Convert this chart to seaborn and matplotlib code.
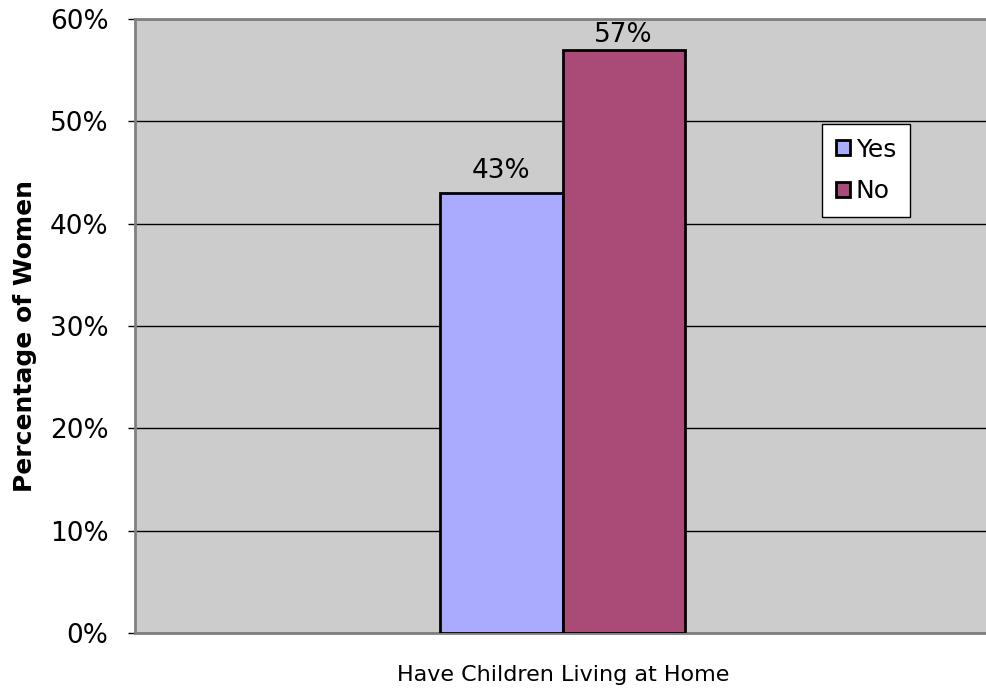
import matplotlib
matplotlib.use("Agg")
import matplotlib.pyplot as plt
import pandas as pd
import seaborn as sns
from matplotlib.ticker import PercentFormatter

# dados do grafico
categorias = ["Have Children Living at Home"]
respostas = ["Yes", "No"]
percentuais = [43, 57]
cores = ["#AAAAFF", "#A94A77"]

df = pd.DataFrame({
    "categoria": categorias * len(respostas),
    "resposta": respostas,
    "percentual": percentuais,
})

sns.set_style("white")
plt.rcParams["font.family"] = ["DejaVu Sans"]
plt.rcParams["text.color"] = "black"
plt.rcParams["axes.labelcolor"] = "black"
plt.rcParams["ytick.color"] = "black"

fig = plt.figure(figsize=(9.86, 6.91), dpi=100)
ax = fig.add_axes([135 / 986, 1 - 633 / 691, 855 / 986, (633 - 19) / 691])
ax.set_facecolor("#CCCCCC")

sns.barplot(
    data=df, x="categoria", y="percentual", hue="resposta",
    palette=cores, saturation=1, width=0.286, edgecolor="black",
    linewidth=2, ax=ax, zorder=3,
)

ax.set_ylim(0, 60)
ax.set_xlim(-0.5, 0.5)
ax.set_yticks(range(0, 61, 10))
ax.yaxis.set_major_formatter(PercentFormatter(decimals=0))
ax.tick_params(axis="y", labelsize=19, length=5, width=1, color="black",
               left=True, pad=14)
ax.tick_params(axis="x", bottom=False, labelbottom=False)
ax.yaxis.grid(True, color="black", linewidth=1)
ax.set_axisbelow(True)

for lado in ["left", "bottom", "top"]:
    ax.spines[lado].set_color("#808080")
    ax.spines[lado].set_linewidth(2)
ax.spines["right"].set_visible(False)

# o rotulo de 57% fica mais colado na barra por causa do topo do grafico
for barras, pad in zip(ax.containers, [6.5, 1.5]):
    ax.bar_label(barras, labels=[f"{v:.0f}%" for v in barras.datavalues],
                 fontsize=19, padding=pad)

ax.set_xlabel("")
ax.set_ylabel("")
fig.text(25 / 986, 1 - 336 / 691, "Percentage of Women", rotation=90,
         ha="center", va="center", fontsize=18, fontweight="bold")
fig.text(563 / 986, 1 - 675 / 691, categorias[0], ha="center", va="center",
         fontsize=16)

leg = ax.legend(
    loc="upper left", bbox_to_anchor=(822 / 986, 1 - 124 / 691),
    bbox_transform=fig.transFigure, borderaxespad=0, fontsize=18,
    frameon=True, fancybox=False, edgecolor="black", framealpha=1,
    handlelength=0.55, handleheight=0.55, handletextpad=0.25,
    labelspacing=0.7, borderpad=0.55,
)
leg.get_frame().set_linewidth(1)

fig.savefig("out.png", dpi=100)
